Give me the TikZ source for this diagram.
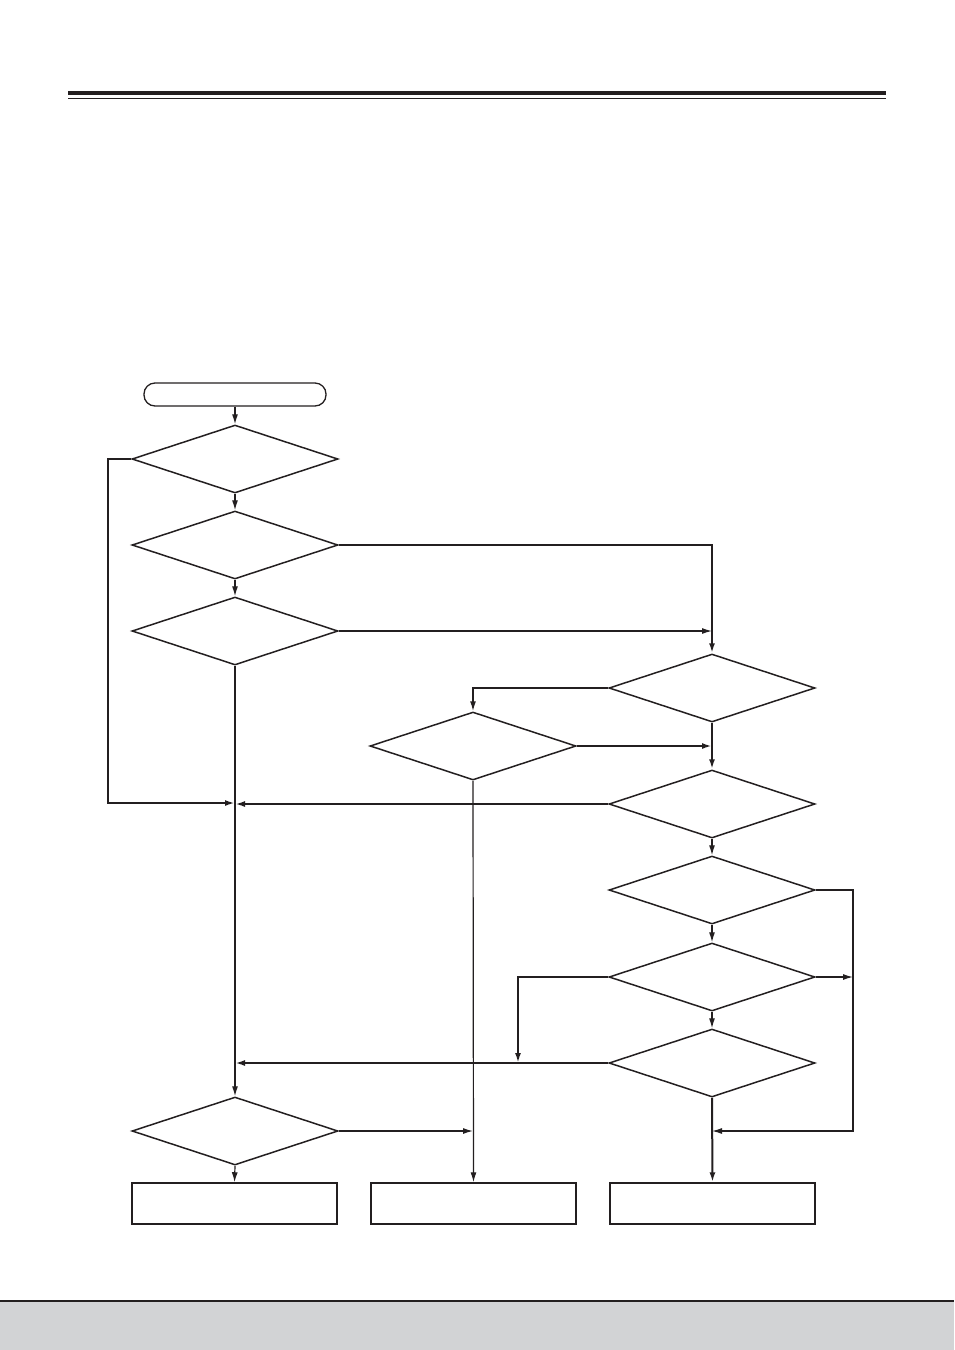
\documentclass[tikz,border=0pt]{standalone}
\usetikzlibrary{arrows.meta,shapes.geometric}
\definecolor{ink}{HTML}{231F20}
\definecolor{band}{HTML}{D2D3D5}
\begin{document}
\begin{tikzpicture}[x=1pt,y=-1pt,
  dec/.style={draw=ink,line width=1.5pt,diamond,minimum width=206pt,minimum height=68pt,inner sep=0pt},
  outbox/.style={draw=ink,line width=1.5pt,rectangle,minimum width=205pt,minimum height=41pt,inner sep=0pt},
  term/.style={draw=ink,line width=1.3pt,rectangle,rounded corners=11pt,minimum width=182pt,minimum height=23pt,inner sep=0pt},
  thk/.style={draw=ink,line width=2pt,-{Latex[length=10pt,width=6pt]}},
  thn/.style={draw=ink,line width=1.2pt,-{Latex[length=10pt,width=6pt]}},
  thkline/.style={draw=ink,line width=2pt},
]
\useasboundingbox (0,0) rectangle (954,1350);
% header rules
\fill[ink] (68,91) rectangle (886,95);
\draw[ink,line width=1.3pt] (68,98.3) -- (886,98.3);
% footer band
\fill[band] (0,1302) rectangle (954,1350);
\draw[ink,line width=2.5pt] (0,1301) -- (954,1301);

% nodes
\node[term] (start) at (235,394.5) {};
\node[dec] (d1) at (235,459) {};
\node[dec] (d2) at (235,545) {};
\node[dec] (d3) at (235,631) {};
\node[dec] (d4) at (712,688) {};
\node[dec] (d5) at (473,746) {};
\node[dec] (d6) at (712,804) {};
\node[dec] (d7) at (712,890) {};
\node[dec] (d8) at (712,977) {};
\node[dec] (d9) at (712,1063) {};
\node[dec] (d10) at (235,1131) {};
\node[outbox] (b1) at (234.5,1203.5) {};
\node[outbox] (b2) at (473.5,1203.5) {};
\node[outbox] (b3) at (712.5,1203.5) {};

\coordinate (j1) at (235,803);
\coordinate (r1) at (853,1131);
\coordinate (j3) at (712,1131);
\coordinate (j2) at (518,1063);

% connectors
\draw[thn] (start) -- (d1);
\draw[thn] (d1) -- (d2);
\draw[thn] (d2) -- (d3);
\draw[thk] (d1.west) -- ++(-23,0) |- (j1);
\draw[thk] (d2.east) -| (d4.north);
\draw[thn] (d3.east) -- (d3.east -| d4.north);
\draw[thn] (d3.south) -- (d10.north);
\draw[thn,line width=1.5pt] (d4.west) -| (d5.north);
\draw[thk] (d4.south) -- (d6.north);
\draw[thk] (d5.east) -- (d5.east -| d4.south);
\draw[thn] (d5.south) -- (b2.north);
\draw[thk] (d6.west) -- (d6.west -| d3.south);
\draw[thn] (d6.south) -- (d7.north);
\draw[thn] (d7.east) -| (r1) -- (j3);
\draw[thn] (d7.south) -- (d8.north);
\draw[thn] (d8.east) -- (d8.east -| r1);
\draw[thk] (d8.west) -| (j2);
\draw[thn] (d8.south) -- (d9.north);
\draw[thk] (d9.west) -- (d9.west -| d10.north);
\draw[thk] (d9.south) -- (b3.north);
\draw[thn] (d10.east) -- (d10.east -| d5.south);
\draw[thn] (d10.south) -- (b1.north);
\end{tikzpicture}
\end{document}
